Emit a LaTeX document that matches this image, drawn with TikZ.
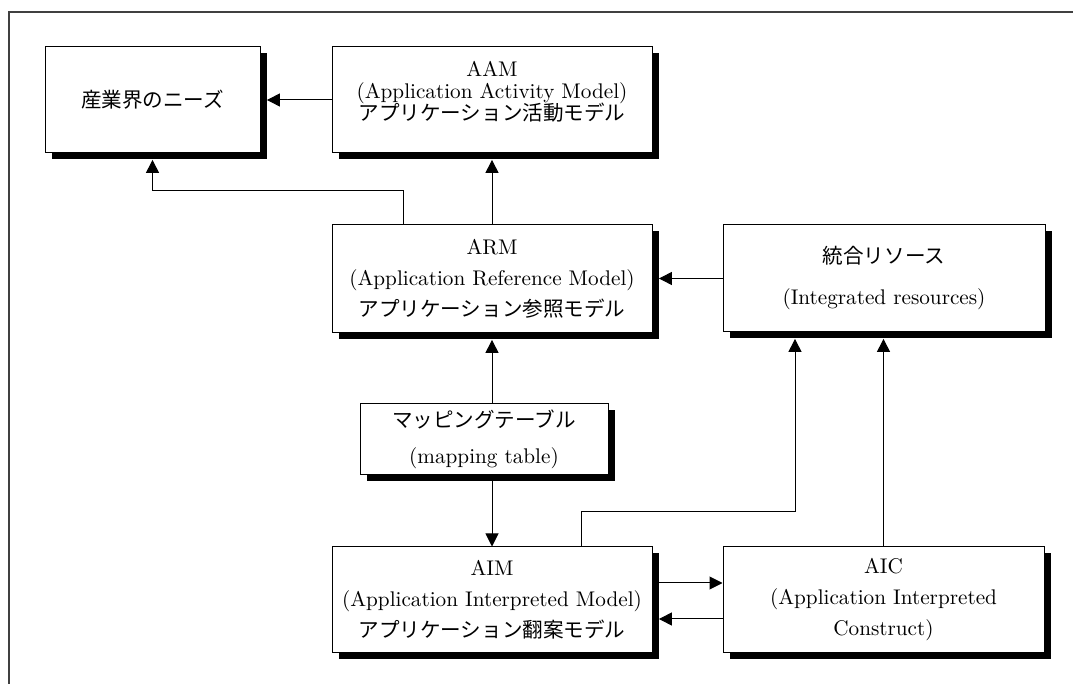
\documentclass[tikz,border=0pt]{standalone}
\usepackage{fontspec}
\newfontfamily\jp{Noto Sans CJK JP}[Scale=0.97]
\usetikzlibrary{arrows.meta,shadows}

\begin{document}
\begin{tikzpicture}[x=0.5pt,y=-0.5pt,>={Triangle[length=6.5pt,width=6.5pt]},line width=0.5pt,
  box/.style={draw,fill=white,line width=0.5pt,inner sep=0pt,align=center,
    font=\fontsize{10.6}{13}\selectfont,
    drop shadow={shadow xshift=3.5pt,shadow yshift=-3pt,fill=black,opacity=1}},
  toshadow/.style={->,shorten >=3.2pt}]
\useasboundingbox (0,0) rectangle (1073,684);
% frame
\draw[line width=0.7pt,black!75] (9,684) -- (9,12) -- (1073,12);
% top row
\node[box,minimum width=107.5pt,minimum height=53pt] (needs) at (152.5,100) {\jp 産業界のニーズ};
\node[box,minimum width=160pt,minimum height=53pt,text depth=9pt] (aam) at (492,100)
  {AAM\\[-2pt](Application Activity Model)\\[-2pt]{\jp アプリケーション活動モデル}};
% middle row
\node[box,minimum width=160pt,minimum height=54pt] (arm) at (492,279)
  {ARM\\[2.5pt](Application Reference Model)\\[2.5pt]{\jp アプリケーション参照モデル}};
\node[box,minimum width=161pt,minimum height=53.5pt] (ires) at (884,278.5)
  {{\jp 統合リソース}\\[7.5pt](Integrated resources)};
\node[box,minimum width=124pt,minimum height=35.5pt] (mapping) at (484,439.5)
  {{\jp マッピングテーブル}\\[5pt](mapping table)};
% bottom row
\node[box,minimum width=160pt,minimum height=53pt] (aim) at (492,600)
  {AIM\\[2.5pt](Application Interpreted Model)\\[2.5pt]{\jp アプリケーション翻案モデル}};
\node[box,minimum width=160.5pt,minimum height=53pt] (aic) at (883.5,600)
  {AIC\\[2.5pt](Application Interpreted\\[2.5pt]Construct)};
% arrows
\draw[toshadow] (aam.west) -- (needs.east);
\draw[toshadow] ([xshift=-44.5pt]arm.north) -- ++(0,-34) -| (needs.south);
\draw[toshadow] (arm.north) -- (aam.south);
\draw[toshadow] (ires.west) -- (ires.west -| arm.east);
\draw[toshadow] (mapping.north -| arm.south) -- (arm.south);
\draw[->] (mapping.south -| aim.north) -- (aim.north);
\draw[toshadow] ([xshift=44.5pt]aim.north) -- ++(0,-35) -| ([xshift=-44.5pt]ires.south);
\draw[toshadow] (aic.north) -- (aic.north |- ires.south);
\draw[->] ([yshift=8.5pt]aim.east) -- ([yshift=8.5pt]aic.west);
\draw[toshadow] ([yshift=-9.5pt]aic.west) -- ([yshift=-9.5pt]aim.east);
\end{tikzpicture}
\end{document}
